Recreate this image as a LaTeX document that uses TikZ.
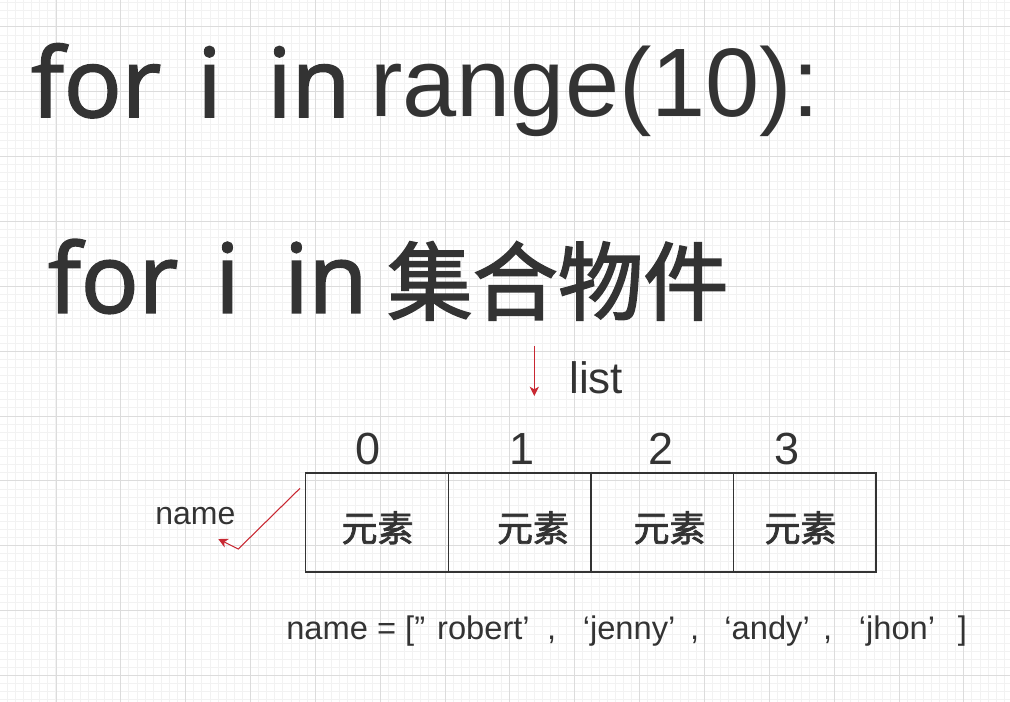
\documentclass[tikz,border=0pt]{standalone}
\usepackage{fontspec}
\setmainfont{Liberation Sans}
\newfontfamily\opensans{Open Sans}[FakeBold=2]
\newfontfamily\cjk{Noto Sans CJK SC}[FakeBold=2]
\usetikzlibrary{arrows.meta}
\definecolor{ink}{HTML}{333333}
\definecolor{gridminor}{HTML}{F2F2F2}
\definecolor{gridmajor}{HTML}{DCDCDC}
\definecolor{pointer}{RGB}{200,40,50}

\begin{document}
\begin{tikzpicture}[x=0.75pt,y=-0.75pt,
	big/.style={anchor=base west,inner sep=0pt,text=ink,font=\opensans\fontsize{72}{72}\selectfont},
	bigsf/.style={anchor=base west,inner sep=0pt,text=ink,font=\fontsize{73}{73}\selectfont},
	bigcjk/.style={anchor=base west,inner sep=0pt,text=ink,font=\cjk\fontsize{64}{64}\selectfont},
	cell/.style={draw=ink,line width=1.1pt,minimum width=107pt,minimum height=74.25pt,inner sep=0pt},
	elem/.style={anchor=base,inner sep=0pt,text=ink,font=\cjk\fontsize{27}{27}\selectfont},
	index/.style={anchor=base,inner sep=0pt,text=ink,font=\fontsize{33.75}{33.75}\selectfont},
	small/.style={anchor=base west,inner sep=0pt,text=ink},
	pointer/.style={draw=pointer,line width=0.8pt,-{Stealth[length=7pt,width=7pt,inset=2pt]}}]
	\useasboundingbox (0,0) rectangle (1010,702);
	% grid paper
	\foreach \k in {0,...,125}
		\draw [gridminor, line width=0.75pt] ({-8.85+\k*8.106},0) -- ({-8.85+\k*8.106},702);
	\foreach \k in {0,...,92}
		\draw [gridminor, line width=0.75pt] (0,{-37.85+\k*8.106}) -- (1010,{-37.85+\k*8.106});
	\foreach \k in {0,...,16}
		\draw [gridmajor, line width=0.75pt] ({-8.85+\k*64.85},0) -- ({-8.85+\k*64.85},702);
	\foreach \k in {0,...,11}
		\draw [gridmajor, line width=0.75pt] (0,{-37.85+\k*64.85}) -- (1010,{-37.85+\k*64.85});

	% first line
	\node [big] (forA) at (31,117) {for};
	\node [big] (iA) at (197,117) {i};
	\node [big] (inA) at (267,117) {in};
	\node [bigsf] (range) at (370,117) {range(10):};

	% second line
	\node [big] (forB) at (48,312.7) {for};
	\node [big] (iB) at (215,312.7) {i};
	\node [big] (inB) at (284,312.7) {in};
	\node [bigcjk] (coll) at (387,313.5) {集合物件};

	% list pointer
	\coordinate (listtop) at (534.3,346);
	\coordinate (listtip) at (534.3,396);
	\draw [pointer] (listtop) -- (listtip);
	\node [small, font=\fontsize{33}{33}\selectfont] (list) at (569,393.3) {list};

	% cells
	\foreach \i in {0,...,3}
		\node [cell] (c\i) at ({377+\i*142.6},522.5) {};
	\node [elem] (e0) at (377.5,541.5) {元素};
	\node [elem] (e1) at (533,541.5) {元素};
	\node [elem] (e2) at (669.5,541.5) {元素};
	\node [elem] (e3) at (800.5,541.5) {元素};
	\node [index] (n0) at (368,464.3) {0};
	\node [index] (n1) at (522,464.3) {1};
	\node [index] (n2) at (661,464.3) {2};
	\node [index] (n3) at (787,464.3) {3};

	% name pointer
	\node [small, font=\fontsize{24}{24}\selectfont] (name) at (155,524.3) {name};
	\coordinate (namestart) at (300,488.3);
	\coordinate (namebend) at (238.3,549);
	\coordinate (nametip) at (218.3,539);
	\draw [pointer] (namestart) -- (namebend) -- (nametip);

	% list literal
	\node [small, font=\fontsize{24.5}{24.5}\selectfont] (literal) at (286,639.5)
		{name = [”\hspace{9pt}robert’\hspace{13pt},\hspace{20pt}‘jenny’\hspace{11pt},\hspace{19pt}‘andy’\hspace{10pt},\hspace{20pt}‘jhon’\hspace{17pt}]};
\end{tikzpicture}
\end{document}
